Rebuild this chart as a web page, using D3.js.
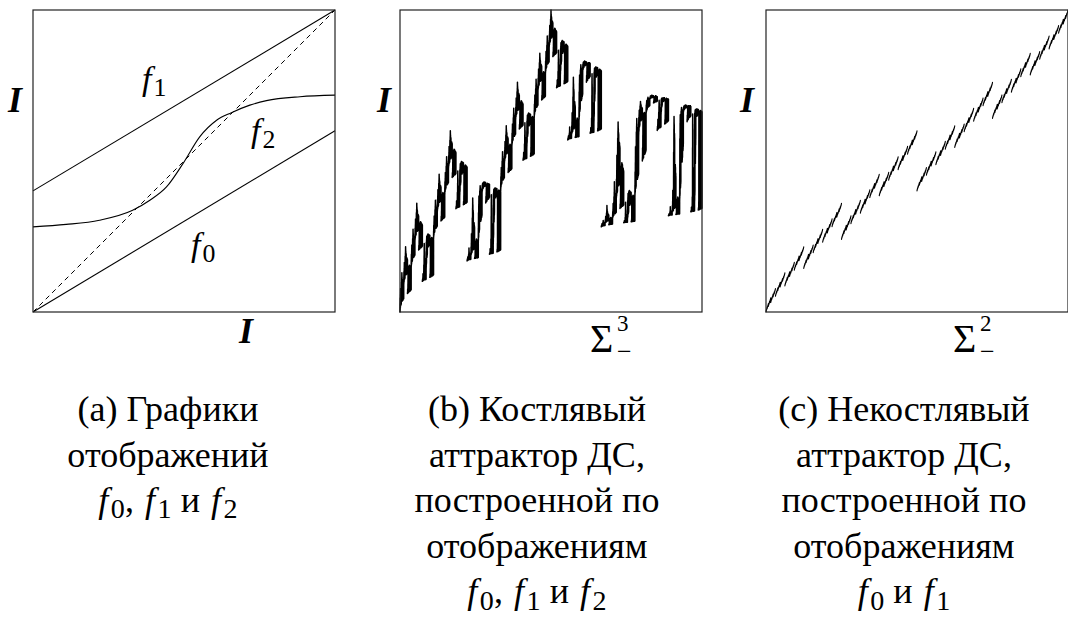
<!DOCTYPE html>
<html>
<head>
<meta charset="utf-8">
<script src="https://cdn.jsdelivr.net/npm/d3@7"></script>
<style>
  body { margin: 0; background: #fff; }
</style>
</head>
<body>
<svg id="fig" width="1068" height="617" font-family="'Liberation Serif', 'Times New Roman', Times, serif"></svg>
<script>
// Graphs of the fibre maps on the unit square I = [0, 1]
const f0Points = [[0, 0], [1, 0.6]];
const f1Points = [[0, 0.401], [1, 1]];
const f2Points = [[0, 0.282], [0.11, 0.29], [0.22, 0.304], [0.33, 0.337], [0.387, 0.37],
                  [0.442, 0.414], [0.497, 0.492], [0.552, 0.58], [0.608, 0.635], [0.657, 0.66],
                  [0.718, 0.685], [0.773, 0.70], [0.884, 0.713], [1, 0.718]];
const diagonal = [[0, 0], [1, 1]];

// Symbolic depth used to approximate the attractors over Σ³₋ and Σ²₋
const depthB = 9;
const depthC = 11;

// Caption lines
const captionA = ["(a) Графики", "отображений"];
const captionB = ["(b) Костлявый", "аттрактор ДС,", "построенной по", "отображениям"];
const captionC = ["(c) Некостлявый", "аттрактор ДС,", "построенной по", "отображениям"];
const mapsA = ["0", "1", "2"];
const mapsB = ["0", "1", "2"];
const mapsC = ["0", "1"];

// ---- layout ----
const FONT = "'Liberation Serif', 'Times New Roman', Times, serif";
const svg = d3.select("#fig");
const boxSize = 302, boxTop = 10;
const panelLeft = [33, 400, 766];
const captionX = [168, 537, 904];
const captionY0 = 421, captionStep = 45.6;
const captionSize = 36;

function txt(sel, x, y, size) {
  return sel.append("text").attr("x", x).attr("y", y)
    .attr("font-family", FONT).attr("font-size", size).attr("fill", "#000");
}

function scales(left) {
  return {
    x: d3.scaleLinear().domain([0, 1]).range([left, left + boxSize]),
    y: d3.scaleLinear().domain([0, 1]).range([boxTop + boxSize, boxTop])
  };
}

// Monotone cubic (same tangents as d3.curveMonotoneX) so the evaluated map equals the drawn curve
function monotoneMap(pts) {
  const n = pts.length, xs = pts.map(p => p[0]), ys = pts.map(p => p[1]);
  const sign = v => v < 0 ? -1 : 1;
  const t = new Array(n);
  for (let i = 1; i < n - 1; i++) {
    const h0 = xs[i] - xs[i - 1], h1 = xs[i + 1] - xs[i];
    const s0 = (ys[i] - ys[i - 1]) / h0, s1 = (ys[i + 1] - ys[i]) / h1;
    const p = (s0 * h1 + s1 * h0) / (h0 + h1);
    t[i] = (sign(s0) + sign(s1)) * Math.min(Math.abs(s0), Math.abs(s1), 0.5 * Math.abs(p)) || 0;
  }
  const ha = xs[1] - xs[0];
  t[0] = (3 * (ys[1] - ys[0]) / ha - t[1]) / 2;
  const hb = xs[n - 1] - xs[n - 2];
  t[n - 1] = (3 * (ys[n - 1] - ys[n - 2]) / hb - t[n - 2]) / 2;
  return v => {
    let i = d3.bisectRight(xs, v) - 1;
    i = Math.max(0, Math.min(n - 2, i));
    const h = xs[i + 1] - xs[i], s = (v - xs[i]) / h;
    const s2 = s * s, s3 = s2 * s;
    return (2 * s3 - 3 * s2 + 1) * ys[i] + (s3 - 2 * s2 + s) * h * t[i]
         + (-2 * s3 + 3 * s2) * ys[i + 1] + (s3 - s2) * h * t[i + 1];
  };
}

const f0 = d3.scaleLinear().domain(f0Points.map(p => p[0])).range(f0Points.map(p => p[1]));
const f1 = d3.scaleLinear().domain(f1Points.map(p => p[0])).range(f1Points.map(p => p[1]));
const f2 = monotoneMap(f2Points);

function frame(left) {
  svg.append("rect")
    .attr("x", left).attr("y", boxTop)
    .attr("width", boxSize).attr("height", boxSize)
    .attr("fill", "none").attr("stroke", "#222").attr("stroke-width", 1.2);
}

// Italic "f" with an upright subscript index
function fLabel(x, y, idx, size) {
  const t = txt(svg, x, y, size);
  t.append("tspan").attr("font-style", "italic").text("f");
  t.append("tspan").attr("font-size", size * 0.76).attr("dx", size * 0.06).attr("dy", size * 0.17).text(idx);
  return t;
}

function axisI(x, y) {
  txt(svg, x, y, 36).attr("text-anchor", "middle")
    .attr("font-style", "italic").attr("font-weight", "bold").text("I");
}

function sigmaLabel(x, y, n) {
  txt(svg, x, y, 40).text("Σ");
  txt(svg, x + 27, y - 21, 23).text(n);
  txt(svg, x + 27, y + 8, 26).text("−");
}

// Caption block with a final formula line "f_a, f_b и f_c"
function caption(cx, lines, idx) {
  lines.forEach((s, i) => {
    txt(svg, cx, captionY0 + i * captionStep, captionSize).attr("text-anchor", "middle").text(s);
  });
  const yF = captionY0 + lines.length * captionStep;
  const t = txt(svg, cx, yF, captionSize).attr("text-anchor", "middle");
  const sub = captionSize * 0.78, drop = captionSize * 0.17;
  idx.forEach((k, i) => {
    if (i > 0) {
      const sep = (i === idx.length - 1) ? " и " : ", ";
      t.append("tspan").attr("dy", -drop).text(sep);
    }
    t.append("tspan").attr("font-style", "italic").attr("dx", i > 0 ? captionSize * 0.06 : 0).text("f");
    t.append("tspan").attr("font-size", sub).attr("dx", captionSize * 0.07).attr("dy", drop).text(k);
  });
}

// Attractor of the step skew product: over each symbolic cylinder the fibre is g([0,1]),
// g being the composition of the maps named by the cylinder's symbols
function attractorPath(fns, depth, sc) {
  const n = fns.length, N = Math.pow(n, depth);
  let d = "";
  for (let j = 0; j < N; j++) {
    let t = j, lo = 0, hi = 1;
    for (let i = 0; i < depth; i++) {
      const k = t % n;
      t = (t - k) / n;
      lo = fns[k](lo); hi = fns[k](hi);
    }
    d += "M" + sc.x(j / N).toFixed(2) + "," + sc.y(lo).toFixed(2)
       + "L" + sc.x((j + 1) / N).toFixed(2) + "," + sc.y(hi).toFixed(2);
  }
  return d;
}

// ---- panel (a): the maps ----
{
  const sc = scales(panelLeft[0]);
  const line = d3.line().x(d => sc.x(d[0])).y(d => sc.y(d[1]));
  const g = svg.append("g");
  g.append("path").attr("d", line(diagonal)).attr("fill", "none")
    .attr("stroke", "#000").attr("stroke-width", 1).attr("stroke-dasharray", "5,4");
  g.append("path").attr("d", line(f0Points)).attr("fill", "none").attr("stroke", "#000").attr("stroke-width", 1.1);
  g.append("path").attr("d", line(f1Points)).attr("fill", "none").attr("stroke", "#000").attr("stroke-width", 1.1);
  g.append("path").attr("d", line.curve(d3.curveMonotoneX)(f2Points)).attr("fill", "none")
    .attr("stroke", "#000").attr("stroke-width", 1.1);
  frame(panelLeft[0]);
  fLabel(142, 90, mapsA[1], 34);
  fLabel(251, 142, mapsA[2], 34);
  fLabel(191, 256, mapsA[0], 34);
  axisI(15, 112);
  axisI(246, 343);
}

// ---- panel (b): bony attractor from f0, f1, f2 ----
{
  const sc = scales(panelLeft[1]);
  svg.append("path").attr("d", attractorPath([f0, f1, f2], depthB, sc))
    .attr("fill", "none").attr("stroke", "#000").attr("stroke-width", 1.5).attr("stroke-linecap", "round");
  frame(panelLeft[1]);
  axisI(384, 112);
  sigmaLabel(590, 352, "3");
}

// ---- panel (c): non-bony attractor from f0, f1 ----
{
  const sc = scales(panelLeft[2]);
  svg.append("path").attr("d", attractorPath([f0, f1], depthC, sc))
    .attr("fill", "none").attr("stroke", "#000").attr("stroke-width", 1.1).attr("stroke-linecap", "round");
  frame(panelLeft[2]);
  axisI(747, 112);
  sigmaLabel(953, 352, "2");
}

caption(captionX[0], captionA, mapsA);
caption(captionX[1], captionB, mapsB);
caption(captionX[2], captionC, mapsC);
</script>
</body>
</html>
